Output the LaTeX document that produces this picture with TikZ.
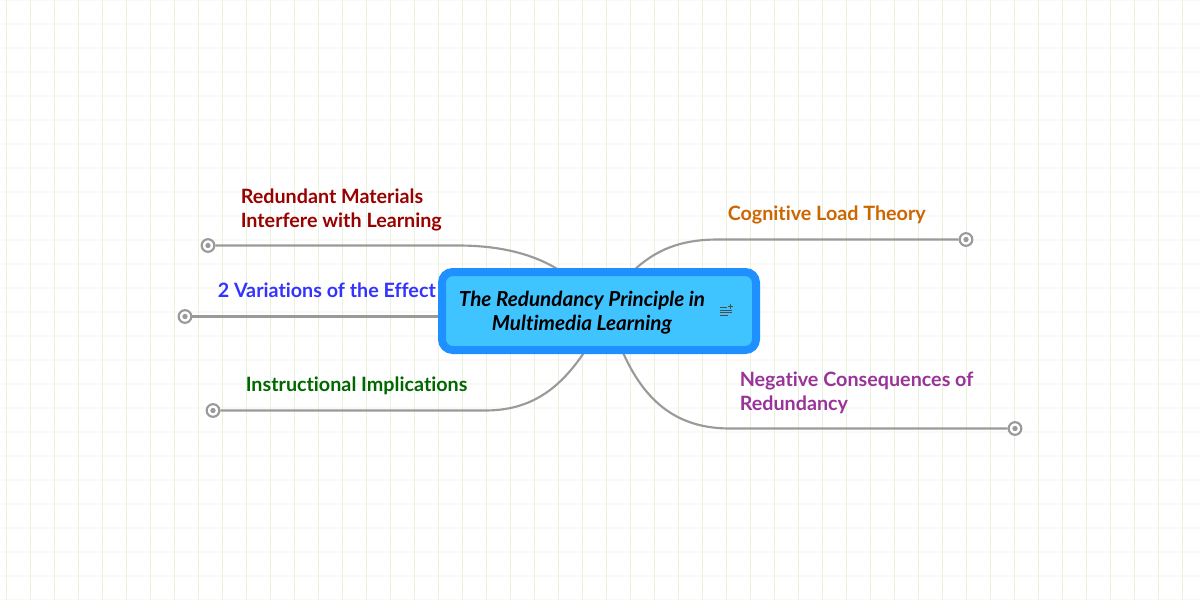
\documentclass[tikz,border=0pt]{standalone}
\usepackage{fontspec}
\setmainfont{Lato}[Ligatures=NoCommon]
\definecolor{gridv}{HTML}{E8F0DE}
\definecolor{gridh}{HTML}{F8FAF3}
\definecolor{linkc}{HTML}{9A9A9A}
\definecolor{boxborder}{HTML}{1E90FF}
\definecolor{boxfill}{HTML}{40C4FF}
\definecolor{redt}{HTML}{990000}
\definecolor{bluet}{HTML}{3333FF}
\definecolor{greent}{HTML}{006600}
\definecolor{oranget}{HTML}{CC6600}
\definecolor{purplet}{HTML}{993399}
\tikzset{
  x=0.75pt,y=-0.75pt,
  link/.style={draw=linkc,line width=1.6pt},
  endcirc/.style={circle,draw=linkc,line width=1.6pt,fill=white,minimum size=9.5pt,inner sep=0pt,
    path picture={\fill[linkc] (path picture bounding box.center) circle (2pt);}},
  topic/.style={font=\bfseries\fontsize{14.8pt}{18pt}\selectfont,align=left,inner sep=0pt,anchor=base west},
  rootbox/.style={draw=boxborder,fill=boxfill,line width=6pt,rounded corners=8pt,minimum width=235.5pt,minimum height=58.5pt,inner sep=0pt},
}
\begin{document}
\begin{tikzpicture}
\useasboundingbox (0,0) rectangle (1200,600);
\fill[white] (0,0) rectangle (1200,600);
\foreach \i in {0,...,25} {\draw[gridh,line width=1.4pt] (0,\i*24) -- (1200,\i*24);}
\foreach \i in {0,...,49} {\draw[gridv,line width=0.75pt] (6.5+\i*24,0) -- (6.5+\i*24,600);}
% connector ends
\node[endcirc] (e1) at (208,245.5) {};
\node[endcirc] (e2) at (185,316.5) {};
\node[endcirc] (e3) at (213,410.5) {};
\node[endcirc] (e4) at (966,239.5) {};
\node[endcirc] (e5) at (1015,428.5) {};
\coordinate (s1) at (562,272);
\coordinate (s2) at (445,316.5);
\coordinate (s3) at (587,348);
\coordinate (s4) at (632,272);
\coordinate (s5) at (621,348);
\draw[link] (e1) -- (458,245.5) .. controls (500,245.5) and (535,254) .. (s1);
\draw[link] (e2) -- (s2);
\draw[link] (e3) -- (485,410.5) .. controls (530,410.5) and (560,390) .. (s3);
\draw[link] (e4) -- (718,239.5) .. controls (680,239.5) and (655,250) .. (s4);
\draw[link] (e5) -- (730,428.5) .. controls (680,428.5) and (645,405) .. (s5);
\node[rootbox] (root) at (599,311) {};
\node[font=\bfseries\itshape\fontsize{15.5pt}{18pt}\selectfont,align=center,inner sep=0pt,anchor=base] (title) at (582,330.5) {The Redundancy Principle in\\Multimedia Learning};
\draw[black!70,line width=0.75pt] (720,307.5) -- (727,307.5) (720,310) -- (732,310) (720,312.5) -- (732,312.5) (720,315) -- (728,315);
\draw[black!70,line width=0.7pt] (730.5,304.3) -- (730.5,308.7) (728.3,306.5) -- (732.7,306.5);
\node[topic,text=redt] (t1) at (240.5,227) {Redundant Materials\\Interfere with Learning};
\node[topic,text=bluet] (t2) at (217.5,297) {2 Variations of the Effect};
\node[topic,text=greent] (t3) at (245.5,391) {Instructional Implications};
\node[topic,text=oranget] (t4) at (727.5,220) {Cognitive Load Theory};
\node[topic,text=purplet] (t5) at (739.5,410) {Negative Consequences of\\Redundancy};
\end{tikzpicture}
\end{document}
